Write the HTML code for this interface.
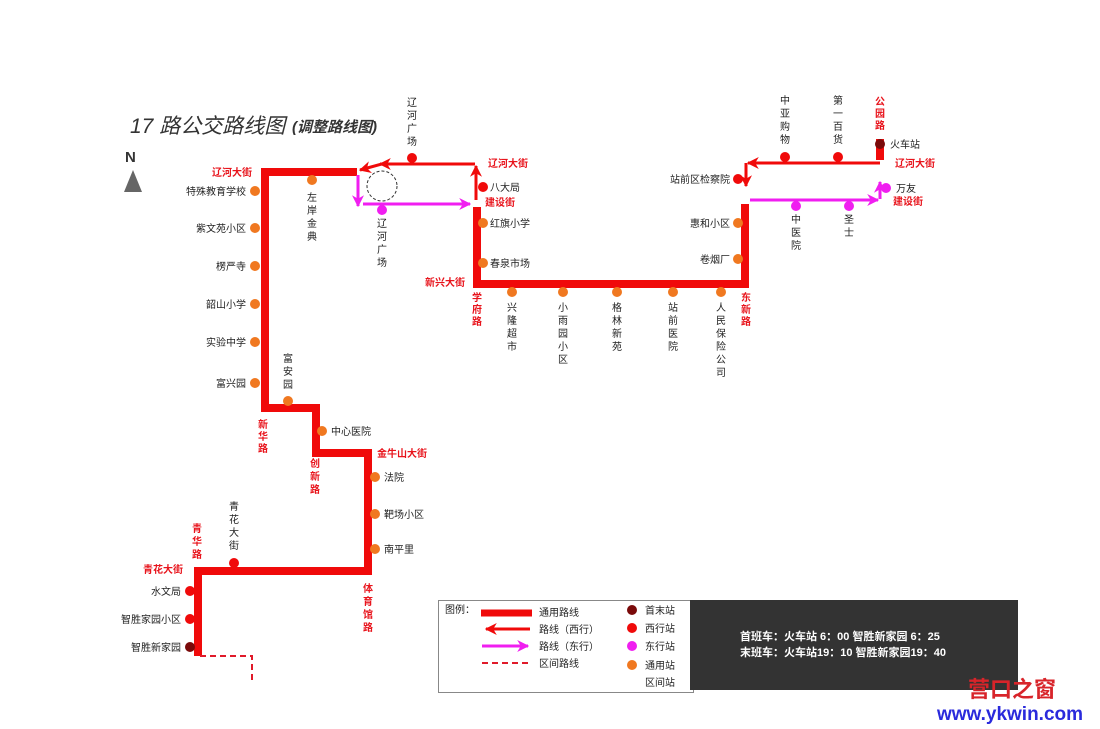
<!DOCTYPE html>
<html><head><meta charset="utf-8"><style>
html,body{margin:0;padding:0;background:#fff}
svg{display:block}
text{font-family:"Liberation Sans","Noto Sans CJK SC",sans-serif}
.s{font-size:10px;fill:#222}
.r{font-size:10px;fill:#e8141c;font-weight:bold}
</style></head><body>
<svg width="1100" height="729" viewBox="0 0 1100 729" xmlns="http://www.w3.org/2000/svg">
<defs>
<marker id="ar" viewBox="0 0 10 10" refX="9" refY="5" markerWidth="4" markerHeight="4" orient="auto"><path d="M0,0 L10,5 L0,10 L3,5 z" fill="#f00a0a"/></marker>
<marker id="am" viewBox="0 0 10 10" refX="9" refY="5" markerWidth="4" markerHeight="4" orient="auto"><path d="M0,0 L10,5 L0,10 L3,5 z" fill="#f01ef0"/></marker>
</defs>
<!-- title -->
<text x="130" y="133" font-size="21" font-style="italic" fill="#333">17 路公交路线图</text>
<text x="292" y="132" font-size="15" font-style="italic" font-weight="bold" fill="#333">(调整路线图)</text>
<text x="125" y="162" font-size="15" font-weight="bold" fill="#333">N</text>
<polygon points="124,192 142,192 133,170" fill="#666"/>

<!-- main thick route -->
<g fill="none" stroke="#f00a0a" stroke-width="8">
<polyline points="357,172 265,172 265,408 316,408 316,453 368,453 368,571 198,571 198,656"/>
<polyline points="477,207 477,284 745,284 745,204"/>
<line x1="880" y1="139" x2="880" y2="160"/>
</g>
<!-- west arrows -->
<g fill="none" stroke="#f00a0a" stroke-width="3">
<polyline points="475,164 380,164" marker-end="url(#ar)"/>
<polyline points="382,164 360,170" marker-end="url(#ar)"/>
<polyline points="476,200 476,166" marker-end="url(#ar)"/>
<polyline points="880,163 748,163" marker-end="url(#ar)"/>
<polyline points="746,163 746,186" marker-end="url(#ar)"/>
</g>
<g fill="none" stroke="#f01ef0" stroke-width="3">
<polyline points="358,175 358,206" marker-end="url(#am)"/>
<polyline points="363,204 470,204" marker-end="url(#am)"/>
<polyline points="750,200 878,200" marker-end="url(#am)"/>
<polyline points="880,199 880,182" marker-end="url(#am)"/>
</g>
<circle cx="382" cy="186" r="15" fill="none" stroke="#333" stroke-dasharray="3,2"/>
<polyline points="200,656 252,656 252,682" fill="none" stroke="#e01a2a" stroke-width="2" stroke-dasharray="6,4"/>

<!-- stops -->
<g fill="#f07820">
<circle cx="255" cy="191" r="5"/><circle cx="255" cy="228" r="5"/><circle cx="255" cy="266" r="5"/>
<circle cx="255" cy="304" r="5"/><circle cx="255" cy="342" r="5"/><circle cx="255" cy="383" r="5"/>
<circle cx="312" cy="180" r="5"/><circle cx="288" cy="401" r="5"/><circle cx="322" cy="431" r="5"/>
<circle cx="375" cy="477" r="5"/><circle cx="375" cy="514" r="5"/><circle cx="375" cy="549" r="5"/>
<circle cx="483" cy="223" r="5"/><circle cx="483" cy="263" r="5"/>
<circle cx="512" cy="292" r="5"/><circle cx="563" cy="292" r="5"/><circle cx="617" cy="292" r="5"/>
<circle cx="673" cy="292" r="5"/><circle cx="721" cy="292" r="5"/>
<circle cx="738" cy="223" r="5"/><circle cx="738" cy="259" r="5"/>
</g>
<g fill="#f00a0a">
<circle cx="412" cy="158" r="5"/><circle cx="483" cy="187" r="5"/><circle cx="738" cy="179" r="5"/>
<circle cx="785" cy="157" r="5"/><circle cx="838" cy="157" r="5"/>
<circle cx="234" cy="563" r="5"/><circle cx="190" cy="591" r="5"/><circle cx="190" cy="619" r="5"/>
</g>
<g fill="#f01ef0">
<circle cx="382" cy="210" r="5"/><circle cx="796" cy="206" r="5"/><circle cx="849" cy="206" r="5"/><circle cx="886" cy="188" r="5"/>
</g>
<g fill="#7a0a0a"><circle cx="880" cy="144" r="5"/><circle cx="190" cy="647" r="5"/></g>

<!-- horizontal stop labels -->
<g class="s" text-anchor="end">
<text x="246" y="195">特殊教育学校</text><text x="246" y="232">紫文苑小区</text><text x="246" y="270">楞严寺</text>
<text x="246" y="308">韶山小学</text><text x="246" y="346">实验中学</text><text x="246" y="387">富兴园</text>
<text x="730" y="183">站前区检察院</text><text x="730" y="227">惠和小区</text><text x="730" y="263">卷烟厂</text>
<text x="181" y="595">水文局</text><text x="181" y="623">智胜家园小区</text><text x="181" y="651">智胜新家园</text>
</g>
<g class="s">
<text x="490" y="191">八大局</text><text x="490" y="227">红旗小学</text><text x="490" y="267">春泉市场</text>
<text x="331" y="435">中心医院</text><text x="384" y="481">法院</text><text x="384" y="518">靶场小区</text><text x="384" y="553">南平里</text>
<text x="890" y="148">火车站</text><text x="896" y="192">万友</text>
</g>
<!-- vertical stop labels -->
<g class="s" text-anchor="middle">
<text x="312" y="201">左</text><text x="312" y="214">岸</text><text x="312" y="227">金</text><text x="312" y="240">典</text>
<text x="412" y="106">辽</text><text x="412" y="119">河</text><text x="412" y="132">广</text><text x="412" y="145">场</text>
<text x="382" y="227">辽</text><text x="382" y="240">河</text><text x="382" y="253">广</text><text x="382" y="266">场</text>
<text x="512" y="311">兴</text><text x="512" y="324">隆</text><text x="512" y="337">超</text><text x="512" y="350">市</text>
<text x="563" y="311">小</text><text x="563" y="324">雨</text><text x="563" y="337">园</text><text x="563" y="350">小</text><text x="563" y="363">区</text>
<text x="617" y="311">格</text><text x="617" y="324">林</text><text x="617" y="337">新</text><text x="617" y="350">苑</text>
<text x="673" y="311">站</text><text x="673" y="324">前</text><text x="673" y="337">医</text><text x="673" y="350">院</text>
<text x="721" y="311">人</text><text x="721" y="324">民</text><text x="721" y="337">保</text><text x="721" y="350">险</text><text x="721" y="363">公</text><text x="721" y="376">司</text>
<text x="785" y="104">中</text><text x="785" y="117">亚</text><text x="785" y="130">购</text><text x="785" y="143">物</text>
<text x="838" y="104">第</text><text x="838" y="117">一</text><text x="838" y="130">百</text><text x="838" y="143">货</text>
<text x="796" y="223">中</text><text x="796" y="236">医</text><text x="796" y="249">院</text>
<text x="849" y="223">圣</text><text x="849" y="236">士</text>
<text x="288" y="362">富</text><text x="288" y="375">安</text><text x="288" y="388">园</text>
<text x="234" y="510">青</text><text x="234" y="523">花</text><text x="234" y="536">大</text><text x="234" y="549">街</text>
</g>
<!-- road labels -->
<g class="r" text-anchor="middle">
<text x="232" y="176">辽河大街</text><text x="508" y="167">辽河大街</text><text x="500" y="206">建设街</text>
<text x="445" y="286">新兴大街</text><text x="402" y="457">金牛山大街</text><text x="163" y="573">青花大街</text>
<text x="915" y="167">辽河大街</text><text x="908" y="205">建设街</text>
<text x="263" y="428">新</text><text x="263" y="440">华</text><text x="263" y="452">路</text>
<text x="315" y="467">创</text><text x="315" y="480">新</text><text x="315" y="493">路</text>
<text x="368" y="592">体</text><text x="368" y="605">育</text><text x="368" y="618">馆</text><text x="368" y="631">路</text>
<text x="197" y="532">青</text><text x="197" y="545">华</text><text x="197" y="558">路</text>
<text x="477" y="301">学</text><text x="477" y="313">府</text><text x="477" y="325">路</text>
<text x="746" y="301">东</text><text x="746" y="313">新</text><text x="746" y="325">路</text>
<text x="880" y="105">公</text><text x="880" y="117">园</text><text x="880" y="129">路</text>
</g>

<!-- legend -->
<rect x="438.5" y="600.5" width="255" height="92" fill="#fff" stroke="#888"/>
<rect x="690" y="600" width="328" height="90" fill="#333"/>
<text x="445" y="613" class="s">图例：</text>
<line x1="481" y1="613" x2="532" y2="613" stroke="#f00a0a" stroke-width="7"/>
<line x1="530" y1="629" x2="486" y2="629" stroke="#f00a0a" stroke-width="3" marker-end="url(#ar)"/>
<line x1="482" y1="646" x2="528" y2="646" stroke="#f01ef0" stroke-width="3" marker-end="url(#am)"/>
<line x1="482" y1="663" x2="532" y2="663" stroke="#e01a2a" stroke-width="2" stroke-dasharray="6,4"/>
<g class="s"><text x="539" y="616">通用路线</text><text x="539" y="633">路线（西行）</text><text x="539" y="650">路线（东行）</text><text x="539" y="667">区间路线</text>
<text x="645" y="614">首末站</text><text x="645" y="632">西行站</text><text x="645" y="650">东行站</text><text x="645" y="669">通用站</text><text x="645" y="686">区间站</text></g>
<circle cx="632" cy="610" r="5" fill="#7a0a0a"/><circle cx="632" cy="628" r="5" fill="#f00a0a"/>
<circle cx="632" cy="646" r="5" fill="#f01ef0"/><circle cx="632" cy="665" r="5" fill="#f07820"/>
<g fill="#fff" font-size="11" font-weight="bold">
<text x="740" y="640" font-family="Liberation Serif,'Noto Serif CJK SC',serif">首班车：火车站 6：00 智胜新家园 6：25</text>
<text x="740" y="656" font-family="Liberation Serif,'Noto Serif CJK SC',serif">末班车：火车站19：10 智胜新家园19：40</text>
</g>
<text x="1012" y="697" text-anchor="middle" font-size="22" font-weight="bold" fill="#d8242a" font-family="'Noto Serif CJK SC',serif">营口之窗</text>
<text x="1010" y="720" text-anchor="middle" font-size="19" font-weight="bold" fill="#2a2adc">www.ykwin.com</text>
</svg>
</body></html>
